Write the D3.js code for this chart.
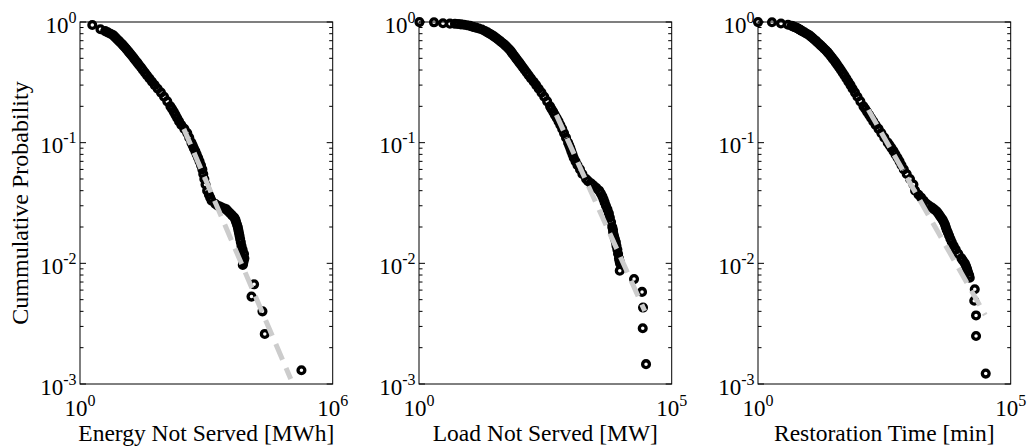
<!DOCTYPE html>
<html><head><meta charset="utf-8">
<script src="https://cdn.jsdelivr.net/npm/d3@7"></script>
<style>body{margin:0;background:#fff}svg{display:block}</style>
</head><body>
<svg id="chart" width="1029" height="446"></svg>
<script>
// ---- data (x value, cumulative probability) ----
const energyX = [1.96, 3.06, 3.96, 4.56, 5.26, 6.06, 6.54, 7.06, 7.62, 8.27, 8.98, 9.80, 10.6, 11.5, 12.5, 13.5, 14.7, 16.0, 17.5, 19.1, 20.9, 23.0, 25.3, 28.3, 31.2, 35.0, 39.2, 44.7, 51.3, 59.4, 70.0, 83.8, 99.2, 118, 140, 154, 169, 185, 203, 225, 255, 301, 352, 393, 443, 473, 505, 548, 589, 639, 690, 748, 804, 844, 896, 957, 1044, 1152, 1237, 1335, 1643, 1873, 2089, 2330, 2672, 2980, 3287, 3666, 4090, 4611, 4897, 5088, 5344, 5583, 5738, 5929, 6125, 6329, 6577, 6832, 7255, 7830, 8006, 7706, 7498, 7336, 13600, 11800, 21500, 24400, 181000];
const energyP = [0.944, 0.87, 0.84, 0.82, 0.80, 0.78, 0.76, 0.74, 0.72, 0.70, 0.68, 0.66, 0.64, 0.62, 0.60, 0.58, 0.56, 0.54, 0.52, 0.50, 0.48, 0.46, 0.44, 0.42, 0.40, 0.38, 0.36, 0.34, 0.32, 0.30, 0.28, 0.26, 0.24, 0.22, 0.20, 0.19, 0.18, 0.17, 0.16, 0.15, 0.14, 0.13, 0.12, 0.11, 0.10, 0.095, 0.09, 0.085, 0.08, 0.075, 0.07, 0.065, 0.06, 0.055, 0.05, 0.045, 0.04, 0.037, 0.035, 0.033, 0.031, 0.030, 0.0295, 0.029, 0.0285, 0.028, 0.027, 0.026, 0.025, 0.024, 0.023, 0.022, 0.021, 0.020, 0.019, 0.018, 0.017, 0.016, 0.015, 0.014, 0.013, 0.012, 0.011, 0.0105, 0.010, 0.0097, 0.0067, 0.0053, 0.0040, 0.0026, 0.0013];

const loadX = [1.02, 1.98, 2.98, 4.10, 5.15, 5.90, 6.76, 7.75, 8.88, 10.2, 11.7, 13.4, 15.3, 17.6, 20.2, 22.6, 25.1, 27.7, 30.4, 33.2, 36.3, 39.5, 42.9, 47.0, 51.0, 55.1, 59.5, 64.3, 68.2, 72.7, 77.9, 83.4, 90.1, 96.9, 105, 114, 124, 136, 149, 165, 186, 208, 234, 265, 301, 343, 392, 419, 453, 487, 531, 577, 626, 682, 740, 811, 892, 938, 987, 1033, 1090, 1152, 1250, 1369, 1534, 1711, 2025, 2218, 2519, 2673, 2849, 3250, 3674, 3954, 4250, 4489, 4720, 5006, 5362, 5714, 5980, 6316, 6671, 6887, 6949, 7207, 7508, 7858, 8074, 8414, 8686, 9048, 9257, 9469, 9385, 17990, 25890, 27090, 26720, 31050];
const loadP = [0.998, 0.994, 0.976, 0.969, 0.966, 0.962, 0.955, 0.949, 0.941, 0.928, 0.912, 0.899, 0.884, 0.867, 0.842, 0.82, 0.80, 0.78, 0.76, 0.74, 0.72, 0.70, 0.68, 0.66, 0.64, 0.62, 0.60, 0.58, 0.56, 0.54, 0.52, 0.50, 0.48, 0.46, 0.44, 0.42, 0.40, 0.38, 0.36, 0.34, 0.32, 0.30, 0.28, 0.26, 0.24, 0.22, 0.20, 0.19, 0.18, 0.17, 0.16, 0.15, 0.14, 0.13, 0.12, 0.11, 0.10, 0.095, 0.09, 0.085, 0.08, 0.075, 0.07, 0.065, 0.06, 0.055, 0.05, 0.048, 0.046, 0.045, 0.044, 0.042, 0.04, 0.038, 0.036, 0.034, 0.032, 0.030, 0.028, 0.026, 0.024, 0.022, 0.020, 0.019, 0.018, 0.017, 0.016, 0.015, 0.014, 0.013, 0.012, 0.011, 0.0105, 0.010, 0.0087, 0.0074, 0.0058, 0.0043, 0.0029, 0.00146];

const timeX = [1.0, 1.89, 2.85, 3.92, 4.61, 4.92, 5.22, 5.58, 5.95, 6.23, 6.52, 6.82, 7.14, 7.47, 8.30, 9.17, 10.2, 11.0, 11.9, 12.8, 13.9, 14.9, 16.1, 17.4, 18.9, 20.4, 22.2, 24.0, 25.8, 27.7, 29.8, 32.3, 34.6, 37.3, 40.4, 43.7, 47.4, 51.5, 56.1, 61.4, 67.6, 74.4, 83.0, 93.0, 106, 122, 133, 144, 158, 173, 191, 213, 243, 276, 316, 369, 403, 439, 481, 524, 577, 632, 692, 768, 876, 1018, 1189, 1285, 1506, 1696, 1909, 2188, 2429, 2759, 3064, 3416, 3674, 3917, 4193, 4489, 4742, 5008, 5193, 5410, 5714, 6035, 6403, 6823, 7439, 8187, 9174, 10610, 11410, 12380, 13080, 13690, 14270, 15060, 15480, 19440, 19000, 20620, 20620, 32060];
const timeP = [0.998, 0.996, 0.972, 0.948, 0.93, 0.92, 0.91, 0.90, 0.89, 0.88, 0.87, 0.86, 0.85, 0.84, 0.82, 0.80, 0.78, 0.76, 0.74, 0.72, 0.70, 0.68, 0.66, 0.64, 0.62, 0.60, 0.58, 0.56, 0.54, 0.52, 0.50, 0.48, 0.46, 0.44, 0.42, 0.40, 0.38, 0.36, 0.34, 0.32, 0.30, 0.28, 0.26, 0.24, 0.22, 0.20, 0.19, 0.18, 0.17, 0.16, 0.15, 0.14, 0.13, 0.12, 0.11, 0.10, 0.095, 0.09, 0.085, 0.08, 0.075, 0.07, 0.065, 0.06, 0.055, 0.05, 0.045, 0.04, 0.037, 0.035, 0.033, 0.031, 0.030, 0.029, 0.028, 0.027, 0.026, 0.025, 0.024, 0.023, 0.022, 0.021, 0.020, 0.019, 0.018, 0.017, 0.016, 0.015, 0.014, 0.013, 0.012, 0.011, 0.0105, 0.010, 0.0095, 0.009, 0.0085, 0.008, 0.0076, 0.0061, 0.0049, 0.0037, 0.0025, 0.00122];

// power-law fit lines (end points)
const energyFitX = [293, 100900];
const energyFitP = [0.130, 0.00110];
const loadFitX = [522, 29270];
const loadFitP = [0.170, 0.00403];
const timeFitX = [153, 31340];
const timeFitP = [0.187, 0.00373];

const xLabels = ["Energy Not Served [MWh]", "Load Not Served [MW]", "Restoration Time [min]"];
const xMaxExp = [6, 5, 5];
const yTickExps = [0, -1, -2, -3];
const yLabel = "Cummulative Probability";

// ---- drawing ----
const svg = d3.select("#chart");
const FONT = "'Liberation Serif','Times New Roman',Times,serif";
const TOP = 22, BOTTOM = 384, PW = 252.7;
const lefts = [80, 419, 758];
const yScale = d3.scaleLog().domain([1e-3, 1]).range([BOTTOM, TOP]);

const panels = [
  {x: energyX, p: energyP, fx: energyFitX, fp: energyFitP},
  {x: loadX, p: loadP, fx: loadFitX, fp: loadFitP},
  {x: timeX, p: timeP, fx: timeFitX, fp: timeFitP}
];

function powText(sel, exp, supSize, raise) {
  sel.append("tspan").text("10");
  sel.append("tspan").attr("dy", -raise).attr("font-size", supSize).text(String(exp));
}

panels.forEach((d, k) => {
  const L = lefts[k], R = L + PW;
  const xScale = d3.scaleLog().domain([1, Math.pow(10, xMaxExp[k])]).range([L, R]);
  const g = svg.append("g");

  // frame
  g.append("rect").attr("x", L).attr("y", TOP).attr("width", PW).attr("height", BOTTOM - TOP)
    .attr("fill", "none").attr("stroke", "#000").attr("stroke-width", 1);

  // y ticks (inward, both sides)
  const yt = yScale.ticks();
  yt.forEach(v => {
    const major = Math.abs(Math.log10(v) - Math.round(Math.log10(v))) < 1e-9;
    const len = major ? 6 : 3.5;
    const y = yScale(v);
    g.append("line").attr("x1", L).attr("x2", L + len).attr("y1", y).attr("y2", y)
      .attr("stroke", "#000").attr("stroke-width", 1);
    g.append("line").attr("x1", R).attr("x2", R - len).attr("y1", y).attr("y2", y)
      .attr("stroke", "#000").attr("stroke-width", 1);
  });

  // y tick labels
  yTickExps.forEach(e => {
    const t = g.append("text").attr("x", L - 3.5).attr("y", yScale(Math.pow(10, e)) + 10.5)
      .attr("text-anchor", "end").attr("font-family", FONT).attr("font-size", 23).attr("fill", "#000");
    powText(t, e, 16, 10);
  });

  // x tick labels
  [0, xMaxExp[k]].forEach(e => {
    const t = g.append("text").attr("x", xScale(Math.pow(10, e))).attr("y", 416)
      .attr("text-anchor", "middle").attr("font-family", FONT).attr("font-size", 23).attr("fill", "#000");
    powText(t, e, 16, 10);
  });

  // x label
  g.append("text").attr("x", (L + R) / 2).attr("y", 441).attr("text-anchor", "middle")
    .attr("font-family", FONT).attr("font-size", 23.5).attr("fill", "#000").text(xLabels[k]);

  // scatter
  g.append("g").selectAll("circle").data(d3.range(d.x.length)).join("circle")
    .attr("cx", i => xScale(d.x[i])).attr("cy", i => yScale(d.p[i])).attr("r", 3.4)
    .attr("fill", "none").attr("stroke", "#000").attr("stroke-width", 3.3);

  // fit line
  const line = d3.line().x(i => xScale(d.fx[i])).y(i => yScale(d.fp[i]));
  g.append("path").attr("d", line(d3.range(d.fx.length)))
    .attr("fill", "none").attr("stroke", "#cccccc").attr("stroke-width", 5)
    .attr("stroke-dasharray", "17,9");
});

// y axis label
svg.append("text").attr("transform", "translate(28," + ((TOP + BOTTOM) / 2) + ") rotate(-90)")
  .attr("text-anchor", "middle").attr("font-family", FONT).attr("font-size", 24).attr("fill", "#000")
  .text(yLabel);
</script>
</body></html>
